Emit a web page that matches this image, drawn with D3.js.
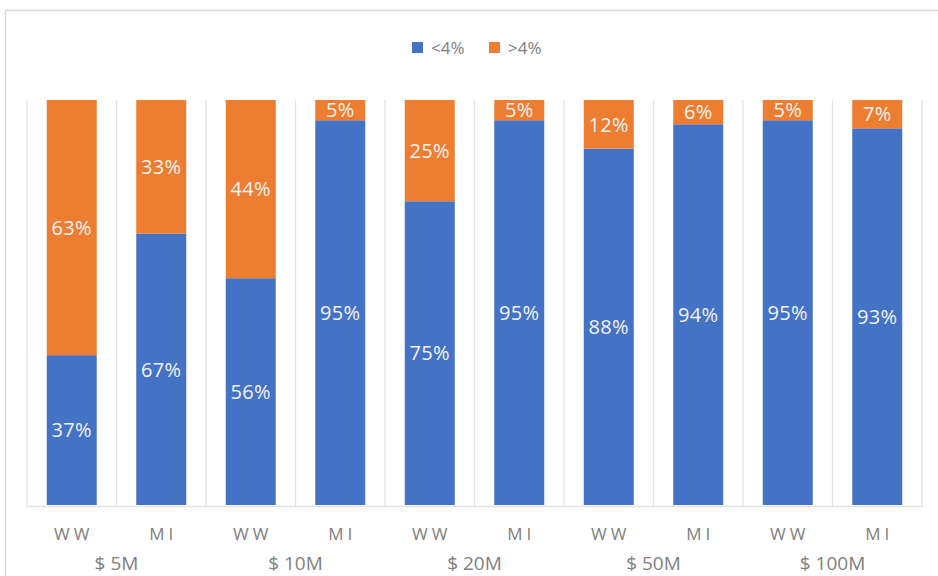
<!DOCTYPE html>
<html>
<head>
<meta charset="utf-8">
<script src="https://cdn.jsdelivr.net/npm/d3@7"></script>
<style>
  body { margin: 0; background: #fff; }
  svg { display: block; font-family: "Open Sans", "Noto Sans", sans-serif; }
</style>
</head>
<body>
<div class="graph"></div>
<script>
const w = 938;
const h = 576;
const margin = {top: 100, right: 16, bottom: 71, left: 27};

// data
const bars = ["WW", "MI", "WW", "MI", "WW", "MI", "WW", "MI", "WW", "MI"];
const barLabels = ["WW", "MI", "WW", "MI", "WW", "MI", "WW", "MI", "WW", "MI"];
const groups = ["$ 5M", "$ 10M", "$ 20M", "$ 50M", "$ 100M"];
const below4 = [37, 67, 56, 95, 75, 95, 88, 94, 95, 93];
const above4 = [63, 33, 44, 5, 25, 5, 12, 6, 5, 7];
const seriesNames = ["<4%", ">4%"];
const colors = ["#4472C4", "#ED7D31"];

const rows = bars.map((b, i) => ({id: i, bar: b, "<4%": below4[i], ">4%": above4[i]}));
const stacked = d3.stack().keys(seriesNames)(rows);

const canvas = d3.select(".graph")
                 .append("svg")
                 .attr("width", w)
                 .attr("height", h);

// chart border (top edge visible)
canvas.append("rect")
      .attr("x", 5.5).attr("y", 10.5)
      .attr("width", w + 10).attr("height", h + 10)
      .attr("fill", "none")
      .attr("stroke", "#d9d9d9")
      .attr("stroke-width", 1.5);

const x = d3.scaleBand()
            .domain(d3.range(bars.length))
            .range([margin.left, w - margin.right])
            .paddingInner(0)
            .paddingOuter(0);

const y = d3.scaleLinear()
            .domain([0, 100])
            .range([h - margin.bottom, margin.top]);

// vertical gridlines between bars
canvas.append("g")
      .attr("class", "grid")
      .selectAll("line")
      .data(d3.range(bars.length + 1))
      .enter().append("line")
      .attr("x1", d => d < bars.length ? x(d) : x(d - 1) + x.bandwidth())
      .attr("x2", d => d < bars.length ? x(d) : x(d - 1) + x.bandwidth())
      .attr("y1", y(100))
      .attr("y2", y(0) + 2)
      .attr("stroke", "#e3e3e3")
      .attr("stroke-width", 1.3);

// baseline
canvas.append("line")
      .attr("x1", x.range()[0]).attr("x2", x.range()[1])
      .attr("y1", y(0) + 1.5).attr("y2", y(0) + 1.5)
      .attr("stroke", "#e3e3e3")
      .attr("stroke-width", 1.3);

const barW = 50;

const layer = canvas.append("g")
                    .selectAll("g")
                    .data(stacked)
                    .enter().append("g")
                    .attr("fill", (d, i) => colors[i]);

layer.selectAll("rect")
     .data(d => d)
     .enter().append("rect")
     .attr("x", (d, i) => x(i) + (x.bandwidth() - barW) / 2)
     .attr("width", barW)
     .attr("y", d => y(d[1]))
     .attr("height", d => y(d[0]) - y(d[1]));

// data labels
layer.selectAll("text")
     .data(d => d)
     .enter().append("text")
     .attr("x", (d, i) => x(i) + x.bandwidth() / 2)
     .attr("y", d => (y(d[0]) + y(d[1])) / 2)
     .attr("dy", "0.36em")
     .attr("text-anchor", "middle")
     .attr("fill", "#f2f2f2")
     .attr("font-size", 20)
     .attr("letter-spacing", 0.3)
     .text(function(d) {
       const key = d3.select(this.parentNode).datum().key;
       return d.data[key] + "%";
     });

// bar labels
canvas.append("g")
      .selectAll("text")
      .data(barLabels)
      .enter().append("text")
      .attr("x", (d, i) => x(i) + x.bandwidth() / 2 + 2)
      .attr("y", 540)
      .attr("text-anchor", "middle")
      .attr("fill", "#808080")
      .attr("font-size", 17)
      .attr("letter-spacing", 4)
      .text(d => d);

// group labels
canvas.append("g")
      .selectAll("text")
      .data(groups)
      .enter().append("text")
      .attr("x", (d, i) => x(i * 2) + x.bandwidth())
      .attr("y", 570)
      .attr("text-anchor", "middle")
      .attr("fill", "#808080")
      .attr("font-size", 19)
      .text(d => d);

// legend
const legend = canvas.append("g")
                     .attr("id", "legend");
const legendX = [412, 489];
seriesNames.forEach(function(name, i) {
  legend.append("rect")
        .attr("x", legendX[i])
        .attr("y", 42)
        .attr("width", 11)
        .attr("height", 11)
        .attr("fill", colors[i]);
  legend.append("text")
        .attr("x", legendX[i] + 19)
        .attr("y", 48)
        .attr("dy", "0.36em")
        .attr("fill", "#808080")
        .attr("font-size", 17)
        .text(name);
});
</script>
</body>
</html>
